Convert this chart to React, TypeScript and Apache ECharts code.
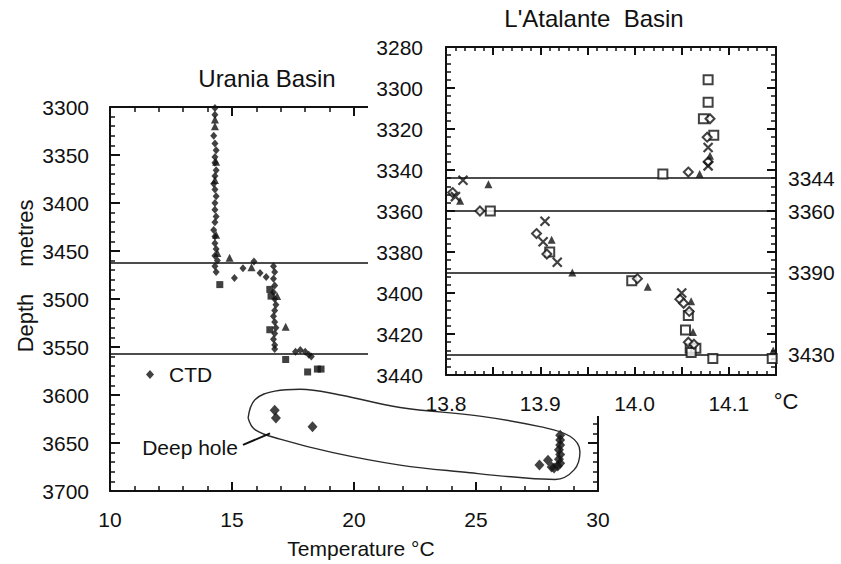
import React, { useEffect, useRef } from "react";
import * as echarts from "echarts";

// ---------------- Urania Basin (left panel) ----------------
const uraniaCTD: [number, number][] = [
  [14.3, 3301], [14.3, 3308], [14.25, 3330], [14.3, 3338], [14.35, 3345], [14.3, 3352],
  [14.3, 3358], [14.35, 3366], [14.3, 3372], [14.25, 3380], [14.3, 3386], [14.35, 3393],
  [14.3, 3400], [14.3, 3407], [14.35, 3414], [14.3, 3420], [14.25, 3428], [14.3, 3435],
  [14.3, 3442], [14.35, 3448], [14.3, 3455], [14.4, 3460], [14.3, 3466], [14.35, 3472],
  [15.1, 3478], [15.45, 3468], [15.9, 3461], [16.15, 3473], [16.4, 3477],
  [16.7, 3466], [16.75, 3472], [16.7, 3479], [16.75, 3486], [16.7, 3493], [16.75, 3500],
  [16.8, 3506], [16.75, 3512], [16.7, 3518], [16.75, 3524], [16.8, 3530], [16.75, 3536],
  [16.7, 3542], [16.75, 3548], [16.75, 3552],
  [17.6, 3555], [17.8, 3553], [18.0, 3555], [18.15, 3558], [18.25, 3560],
];
const uraniaTriangles: [number, number][] = [
  [14.3, 3313], [14.3, 3320], [14.35, 3357], [14.3, 3376], [14.35, 3433], [14.4, 3452],
  [14.9, 3457], [15.8, 3467], [17.2, 3529], [16.85, 3497],
];
const uraniaSquares: [number, number][] = [
  [14.5, 3485], [16.55, 3490], [16.6, 3497], [16.55, 3532], [17.2, 3563],
  [18.1, 3576], [18.5, 3573], [18.65, 3573],
];
const uraniaDeepHole: [number, number][] = [
  [16.75, 3616], [16.8, 3624], [18.3, 3633],
  [28.45, 3642], [28.45, 3647], [28.45, 3652], [28.4, 3657], [28.45, 3662], [28.4, 3667],
  [28.45, 3671], [28.35, 3674], [27.6, 3673], [27.95, 3668], [28.1, 3675], [28.2, 3676],
];
const uraniaLines: number[] = [3462, 3557];
const deepHoleOutline: [number, number][] = [
  [15.66, 3624], [15.94, 3605], [16.76, 3596], [17.79, 3594], [19.43, 3600], [21.89, 3613],
  [25.16, 3622], [27.62, 3633], [28.85, 3643], [29.26, 3659], [29.02, 3678], [28.24, 3688],
  [26.8, 3686], [24.75, 3681], [21.89, 3673], [19.14, 3660], [16.97, 3646], [15.94, 3636],
  [15.66, 3624],
];
const deepHoleLeader: [number, number][] = [[15.45, 3652], [16.56, 3640]];

// ---------------- L'Atalante Basin (right panel) ----------------
const atalanteSquares: [number, number][] = [
  [14.078, 3296], [14.078, 3307], [14.073, 3315], [14.084, 3323], [14.03, 3342],
  [13.847, 3360], [13.91, 3380], [13.997, 3394], [14.057, 3411], [14.054, 3418],
  [14.059, 3427], [14.065, 3427], [14.06, 3429], [14.083, 3432], [14.146, 3432],
];
const atalanteDiamonds: [number, number][] = [
  [14.08, 3315], [14.077, 3324], [14.078, 3336], [14.057, 3341], [13.807, 3351],
  [13.836, 3360], [13.896, 3371], [13.907, 3381], [14.003, 3393], [14.048, 3403],
  [14.052, 3405], [14.058, 3409], [14.057, 3424], [14.063, 3425],
];
const atalanteCrosses: [number, number][] = [
  [14.078, 3329], [14.078, 3338], [13.818, 3345], [13.81, 3353], [13.905, 3365],
  [13.903, 3375], [13.918, 3385], [14.05, 3400],
];
const atalanteTriangles: [number, number][] = [
  [14.08, 3333], [14.069, 3342], [13.845, 3347], [13.815, 3355], [13.912, 3374],
  [13.934, 3390], [14.014, 3397], [14.06, 3404], [14.062, 3419], [14.147, 3428],
];
const atalanteLines: number[] = [3344, 3360, 3390, 3430];

const FONT = '"Liberation Sans", Arial, Helvetica, sans-serif';
const INK = "#111";

function axisBase(z: number, tickLen: number, minorLen: number) {
  return {
    z,
    axisLine: { show: true, onZero: false, lineStyle: { color: INK, width: 2 } },
    axisTick: { show: true, inside: true, length: tickLen, lineStyle: { color: INK, width: 2 } },
    minorTick: { show: true, splitNumber: 5, length: minorLen, lineStyle: { color: INK, width: 1.5 } },
    splitLine: { show: false },
    minorSplitLine: { show: false },
  };
}

const plain = (v: number) => String(v);

export default function App() {
  const ref = useRef<HTMLDivElement>(null);
  useEffect(() => {
    const chart = echarts.init(ref.current!, null, { renderer: "svg" });
    const RZ = 20;
    const option: any = {
      animation: false,
      backgroundColor: "#fff",
      textStyle: { fontFamily: FONT, color: INK },
      grid: [
        { left: 110, top: 107, width: 488, height: 384, containLabel: false },
        { left: 446, top: 47, width: 330, height: 328, containLabel: false, z: RZ },
      ],
      legend: {
        data: [{ name: "CTD", icon: "diamond" }],
        left: 141,
        top: 359,
        itemWidth: 8,
        itemHeight: 9,
        selectedMode: false,
        textStyle: { fontFamily: FONT, fontSize: 21, color: INK, padding: [0, 0, 0, 10] },
      },
      xAxis: [
        {
          ...axisBase(0, 9, 5), gridIndex: 0, type: "value", min: 10, max: 30, interval: 5,
          position: "bottom",
          axisLabel: { show: true, margin: 18, fontSize: 21, color: INK, fontFamily: FONT, formatter: plain },
        },
        {
          ...axisBase(0, 9, 5), gridIndex: 0, type: "value", min: 10, max: 30, interval: 5,
          position: "top", axisLabel: { show: false },
        },
        {
          ...axisBase(RZ, 8, 4), gridIndex: 1, type: "value", min: 13.8, max: 14.15, interval: 0.05,
          position: "bottom",
          axisLabel: {
            show: true, margin: 18, fontSize: 21, color: INK, fontFamily: FONT,
            formatter: (v: number) => {
              const r = Math.round(v * 100);
              return r % 10 === 0 ? (r / 100).toFixed(1) : "";
            },
          },
        },
        {
          ...axisBase(RZ, 8, 4), gridIndex: 1, type: "value", min: 13.8, max: 14.15, interval: 0.05,
          position: "top", axisLabel: { show: false },
        },
      ],
      yAxis: [
        {
          ...axisBase(0, 10, 5), gridIndex: 0, type: "value", inverse: true, min: 3300, max: 3700,
          interval: 50, position: "left",
          axisLabel: { show: true, margin: 21, fontSize: 21, color: INK, fontFamily: FONT, formatter: plain },
        },
        {
          ...axisBase(0, 10, 5), gridIndex: 0, type: "value", inverse: true, min: 3300, max: 3700,
          interval: 50, position: "right", axisLabel: { show: false },
        },
        {
          ...axisBase(RZ, 9, 5), gridIndex: 1, type: "value", inverse: true, min: 3280, max: 3440,
          interval: 20, position: "left",
          axisLabel: {
            show: true, margin: 23, fontSize: 21, color: INK, fontFamily: FONT,
            padding: [10, 0, 0, 0], formatter: plain,
          },
        },
        {
          ...axisBase(RZ, 9, 5), gridIndex: 1, type: "value", inverse: true, min: 3280, max: 3440,
          interval: 20, position: "right", axisLabel: { show: false },
        },
      ],
      graphic: [
        { type: "rect", z: 10, shape: { x: 368, y: 0, width: 473, height: 416 }, style: { fill: "#fff" } },
        {
          type: "text", z: 30, x: 267, y: 78,
          style: { text: "Urania Basin", fontSize: 24, fontFamily: FONT, fill: INK, align: "center", verticalAlign: "middle" },
        },
        {
          type: "text", z: 30, x: 594, y: 18,
          style: { text: "L'Atalante  Basin", fontSize: 24, fontFamily: FONT, fill: INK, align: "center", verticalAlign: "middle" },
        },
        {
          type: "text", z: 30, x: 25, y: 233, rotation: Math.PI / 2,
          style: { text: "metres", fontSize: 22, fontFamily: FONT, fill: INK, align: "center", verticalAlign: "middle" },
        },
        {
          type: "text", z: 30, x: 25, y: 323, rotation: Math.PI / 2,
          style: { text: "Depth", fontSize: 22, fontFamily: FONT, fill: INK, align: "center", verticalAlign: "middle" },
        },
        {
          type: "text", z: 30, x: 361, y: 548,
          style: { text: "Temperature °C", fontSize: 21, fontFamily: FONT, fill: INK, align: "center", verticalAlign: "middle" },
        },
        {
          type: "text", z: 30, x: 786, y: 401,
          style: { text: "°C", fontSize: 22, fontFamily: FONT, fill: INK, align: "center", verticalAlign: "middle" },
        },
        {
          type: "text", z: 30, x: 190, y: 447,
          style: { text: "Deep hole", fontSize: 21, fontFamily: FONT, fill: INK, align: "center", verticalAlign: "middle" },
        },
      ],
      series: [
        {
          name: "CTD", type: "scatter", xAxisIndex: 0, yAxisIndex: 0, data: uraniaCTD,
          symbol: "diamond", symbolSize: [7, 8], itemStyle: { color: INK },
          markLine: {
            silent: true, symbol: ["none", "none"], label: { show: false },
            lineStyle: { color: INK, width: 1.5, type: "solid" },
            data: uraniaLines.map((v) => ({ yAxis: v })),
          },
        },
        {
          name: "Urania triangles", type: "scatter", xAxisIndex: 0, yAxisIndex: 0, data: uraniaTriangles,
          symbol: "triangle", symbolSize: 8, itemStyle: { color: INK },
        },
        {
          name: "Urania squares", type: "scatter", xAxisIndex: 0, yAxisIndex: 0, data: uraniaSquares,
          symbol: "rect", symbolSize: 7, itemStyle: { color: INK },
        },
        {
          name: "Deep hole", type: "scatter", xAxisIndex: 0, yAxisIndex: 0, data: uraniaDeepHole,
          symbol: "diamond", symbolSize: [10, 11], itemStyle: { color: INK },
        },
        {
          name: "Deep hole outline", type: "line", xAxisIndex: 0, yAxisIndex: 0, data: deepHoleOutline,
          smooth: 0.4, symbol: "none", z: 15, clip: false,
          lineStyle: { color: "#2a2a2a", width: 1.4 },
        },
        {
          name: "Deep hole leader", type: "line", xAxisIndex: 0, yAxisIndex: 0, data: deepHoleLeader,
          symbol: "none", z: 15, lineStyle: { color: INK, width: 2 },
        },
        {
          name: "Atalante squares", type: "scatter", xAxisIndex: 2, yAxisIndex: 2, data: atalanteSquares,
          symbol: "rect", symbolSize: 9, z: RZ + 1,
          itemStyle: { color: "#fff", borderColor: INK, borderWidth: 2 },
          markLine: {
            silent: true, z: RZ + 1, symbol: ["none", "none"],
            lineStyle: { color: INK, width: 1.5, type: "solid" },
            label: { show: true, position: "end", distance: 12, formatter: "{c}", fontSize: 21, color: INK, fontFamily: FONT },
            data: atalanteLines.map((v) => ({ yAxis: v })),
          },
        },
        {
          name: "Atalante diamonds", type: "scatter", xAxisIndex: 2, yAxisIndex: 2, data: atalanteDiamonds,
          symbol: "diamond", symbolSize: [9, 9], z: RZ + 1,
          itemStyle: { color: "#fff", borderColor: INK, borderWidth: 2 },
        },
        {
          name: "Atalante crosses", type: "scatter", xAxisIndex: 2, yAxisIndex: 2, data: atalanteCrosses,
          symbol: "path://M0,0L10,10M10,0L0,10", symbolSize: 9, z: RZ + 1,
          itemStyle: { color: "none", borderColor: INK, borderWidth: 2.2 },
        },
        {
          name: "Atalante triangles", type: "scatter", xAxisIndex: 2, yAxisIndex: 2, data: atalanteTriangles,
          symbol: "triangle", symbolSize: 8, z: RZ + 1, itemStyle: { color: INK },
        },
      ],
    };
    chart.setOption(option);
    return () => chart.dispose();
  }, []);
  return (
    <div style={{ position: "fixed", left: 0, top: 0, width: 841, height: 564, background: "#fff" }}>
      <div ref={ref} style={{ width: 841, height: 564 }} />
    </div>
  );
}
